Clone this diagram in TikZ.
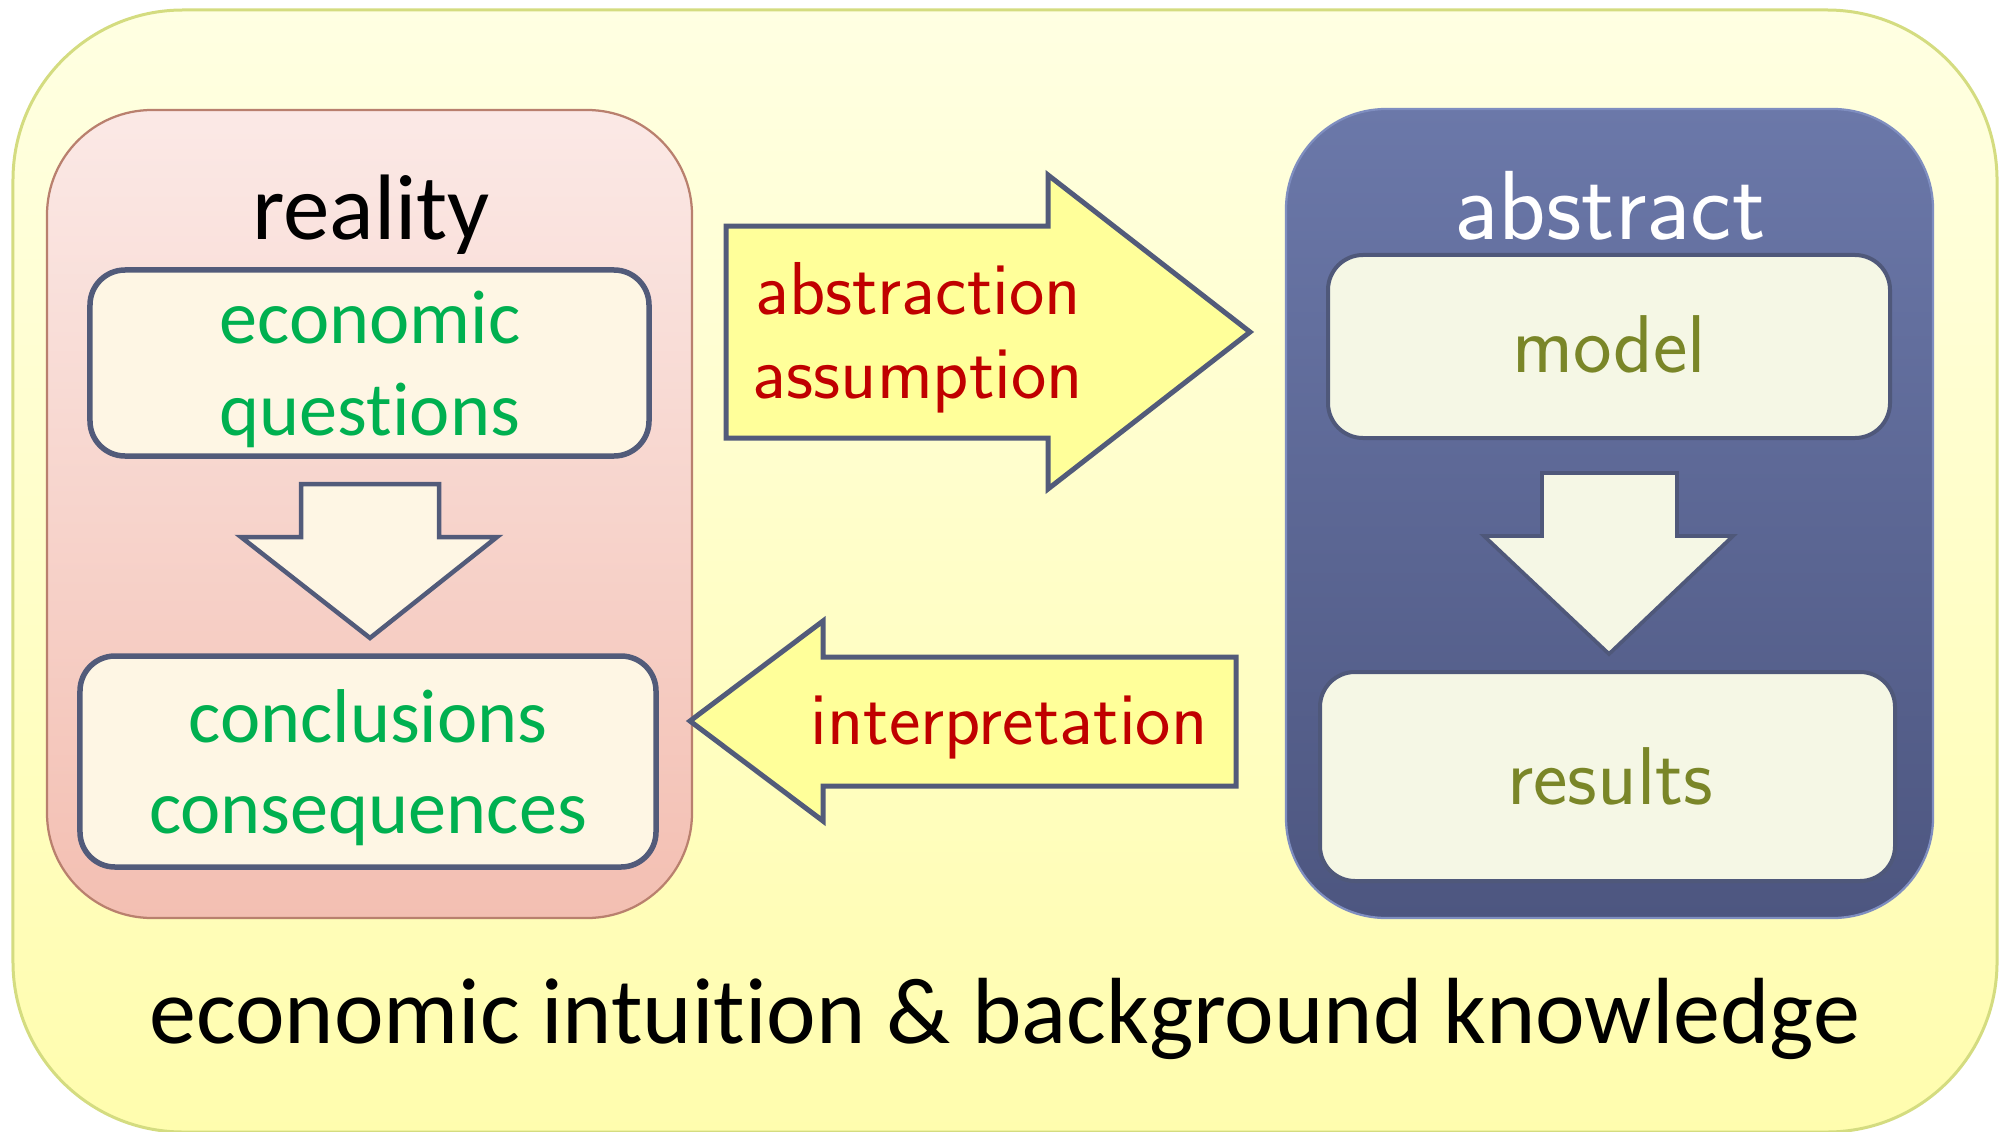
\documentclass[tikz,border=0pt]{standalone}
\usepackage{fontspec}
\newfontfamily\calfont[Ligatures={NoCommon}]{Carlito}
\definecolor{outertop}{HTML}{FFFFE2}
\definecolor{outerbot}{HTML}{FFFDAE}
\definecolor{outerline}{HTML}{D4DC80}
\definecolor{realtop}{HTML}{FBE9E6}
\definecolor{realbot}{HTML}{F3BFB2}
\definecolor{realline}{HTML}{B9806E}
\definecolor{abstop}{HTML}{6B78A9}
\definecolor{absbot}{HTML}{4D5680}
\definecolor{absline}{HTML}{7F8EC0}
\definecolor{slate}{HTML}{525B7A}
\definecolor{slatedk}{HTML}{4F587A}
\definecolor{cream}{HTML}{FEF6E4}
\definecolor{palegreen}{HTML}{F5F7E5}
\definecolor{arrowyellow}{HTML}{FFFF9A}
\definecolor{greentxt}{HTML}{00B050}
\definecolor{redtxt}{HTML}{C00000}
\definecolor{olivetxt}{HTML}{7A8628}
\tikzset{
  bigbox/.style={inner sep=0pt, outer sep=0pt, rounded corners=#1},
  leftbox/.style={draw=slate, fill=cream, line width=2.2pt, inner sep=0pt, outer sep=0pt, rounded corners=14pt},
  rightbox/.style={draw=slatedk, fill=palegreen, line width=1.6pt, inner sep=0pt, outer sep=0pt, rounded corners=14pt},
  blockarrow/.style={draw=slate, fill=arrowyellow, line width=2pt, line join=miter},
  gtext/.style={anchor=base, inner sep=0pt, text=greentxt, font=\calfont\fontsize{30.5}{36}\selectfont},
  rtext/.style={anchor=base, inner sep=0pt, text=redtxt, font=\sffamily\fontsize{30}{36}\selectfont},
  otext/.style={anchor=base, inner sep=0pt, text=olivetxt, font=\sffamily\fontsize{32.8}{39}\selectfont},
}
\begin{document}
\begin{tikzpicture}[x=0.4pt,y=-0.4pt]
\useasboundingbox (0,0) rectangle (2006,1132);
% outer background box
\node[bigbox=68pt, draw=outerline, line width=1.2pt, top color=outertop, bottom color=outerbot,
  minimum width=793.6pt, minimum height=448.8pt] (outer) at (1005,571) {};
% reality box
\node[bigbox=42pt, draw=realline, line width=0.9pt, top color=realtop, bottom color=realbot,
  minimum width=258pt, minimum height=323.2pt] (reality) at (369.5,514) {};
% abstract box
\node[bigbox=40pt, draw=absline, line width=0.9pt, top color=abstop, bottom color=absbot,
  minimum width=258.8pt, minimum height=323.6pt] (abstract) at (1609.5,513.5) {};
% inner boxes
\node[leftbox, minimum width=223.6pt, minimum height=74.4pt] (questions) at (369.5,363) {};
\node[leftbox, minimum width=230.4pt, minimum height=84.4pt] (conclusions) at (368,761.5) {};
\node[rightbox, minimum width=224.8pt, minimum height=73.2pt] (model) at (1609,346.5) {};
\node[rightbox, minimum width=230pt, minimum height=83.6pt] (results) at (1607.5,776.5) {};
% down arrows
\draw[draw=slate, fill=cream, line width=1.8pt]
  (301,484) -- (439,484) -- (439,537) -- (497,537) -- (370,638) -- (241,537) -- (301,537) -- cycle;
\draw[draw=slatedk, fill=palegreen, line width=1.5pt]
  (1542,473) -- (1677,473) -- (1677,536) -- (1733,536) -- (1609,654) -- (1484,536) -- (1542,536) -- cycle;
% block arrows between the sides
\draw[blockarrow]
  (726,226) -- (1048,226) -- (1048,175) -- (1250,332) -- (1048,489) -- (1048,438) -- (726,438) -- cycle;
\draw[blockarrow]
  (1236,657) -- (823,657) -- (823,621) -- (690,721) -- (823,821) -- (823,786) -- (1236,786) -- cycle;
% texts
\node[anchor=base, inner sep=0pt, font=\calfont\fontsize{37.2}{44}\selectfont] (treality) at (371,239) {reality};
\node[gtext] (tq1) at (370,343) {economic};
\node[gtext] (tq2) at (370,435) {questions};
\node[gtext] (tc1) at (368,742) {conclusions};
\node[gtext] (tc2) at (368,833) {consequences};
\node[rtext] (ta1) at (918,314) {abstraction};
\node[rtext] (ta2) at (918,398) {assumption};
\node[rtext] (ti) at (1009,744) {interpretation};
\node[anchor=base, inner sep=0pt, text=white, font=\sffamily\fontsize{39.3}{47}\selectfont] (tabstract) at (1610,239) {abstract};
\node[otext] (tmodel) at (1609,372) {model};
\node[otext] (tresults) at (1610,804) {results};
\node[anchor=base, inner sep=0pt, font=\calfont\fontsize{37.6}{45}\selectfont] (tbottom) at (1005,1043) {economic intuition \& background knowledge};
\end{tikzpicture}
\end{document}
